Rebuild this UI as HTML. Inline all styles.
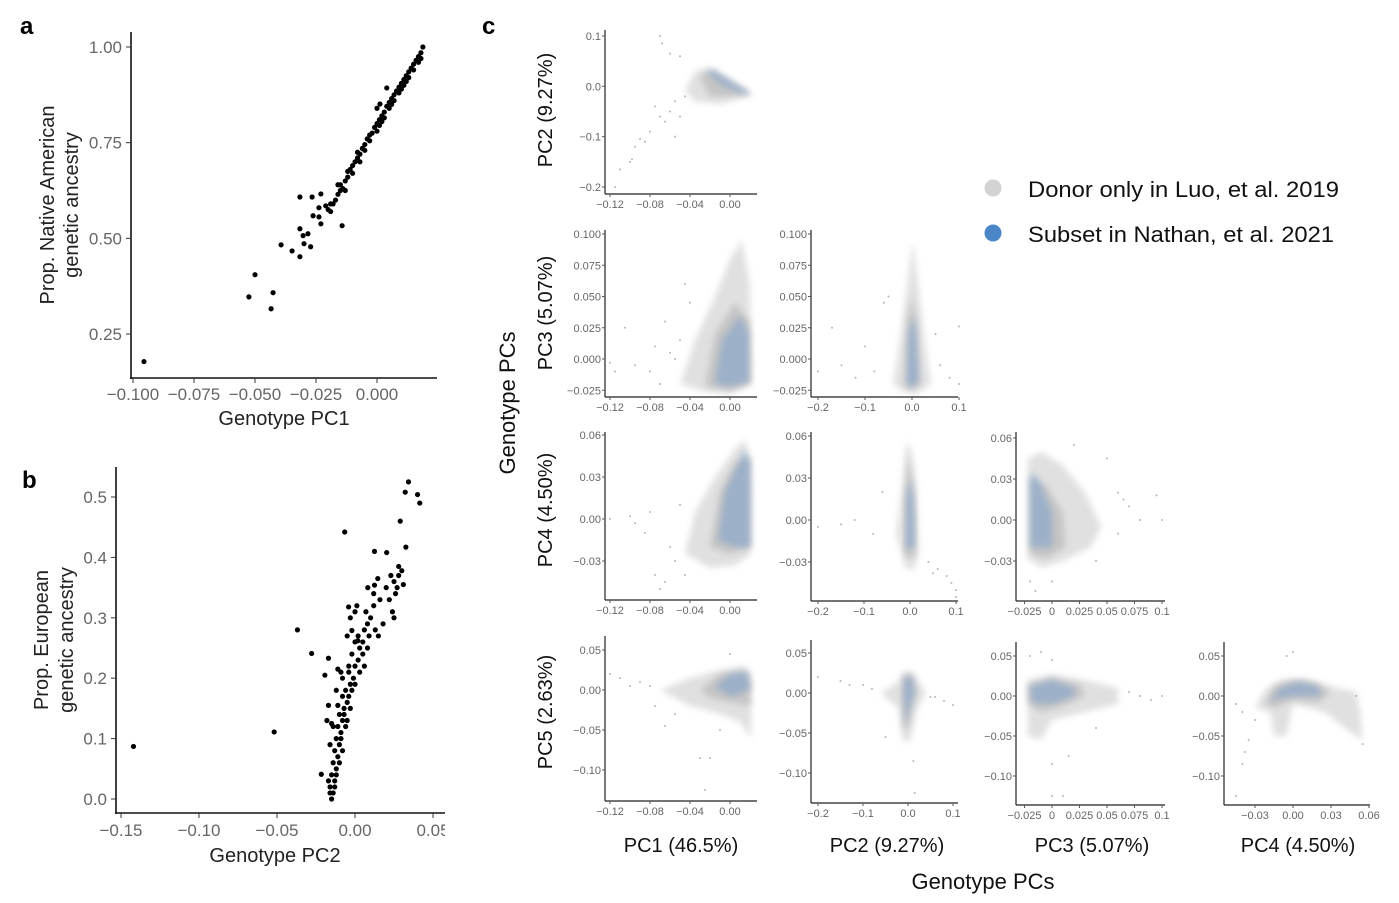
<!DOCTYPE html>
<html><head><meta charset="utf-8"><style>
html,body{margin:0;padding:0;background:#fff;}
svg{display:block;font-family:"Liberation Sans",Arial,sans-serif;}
</style></head><body>
<svg id="fig" width="1399" height="903" viewBox="0 0 1399 903" xmlns="http://www.w3.org/2000/svg">
<defs><filter id="bl" x="-30%" y="-30%" width="160%" height="160%"><feGaussianBlur stdDeviation="3.2"/></filter></defs>
<text x="20" y="34" font-size="24" font-weight="bold">a</text>
<text x="22" y="488" font-size="24" font-weight="bold">b</text>
<text x="482" y="34" font-size="24" font-weight="bold">c</text>
<g id="pa"></g>
<g id="pb"></g>
<g id="pc"></g>
<g>
 <circle cx="993" cy="188" r="8.5" fill="#d3d3d3"/>
 <text x="1028" y="197" font-size="22" fill="#111" textLength="311" lengthAdjust="spacingAndGlyphs">Donor only in Luo, et al. 2019</text>
 <circle cx="993" cy="233" r="8.5" fill="#4a86c8"/>
 <text x="1028" y="242" font-size="22" fill="#111" textLength="306" lengthAdjust="spacingAndGlyphs">Subset in Nathan, et al. 2021</text>
</g>
</svg>
<script>
// ---- Panel a data ----
const aPC1 = [-0.0955,-0.050,-0.0525,-0.0426,-0.0434,-0.0393,-0.0348,-0.0316,-0.0316,-0.0303,-0.0299,-0.0283,-0.0272,-0.0316,-0.0266,-0.023,-0.0262,-0.0238,-0.0238,-0.023,-0.0143,0.004,0.000,0.0012,
 -0.020,-0.019,-0.018,-0.017,-0.016,-0.015,-0.015,-0.014,-0.013,-0.012,-0.012,-0.011,-0.010,-0.010,-0.009,-0.008,-0.008,-0.007,-0.006,-0.005,-0.005,-0.004,-0.003,-0.002,-0.001,0.000,0.000,0.001,0.002,0.002,0.003,0.004,0.005,0.005,0.006,0.007,0.007,0.008,0.009,0.010,0.010,0.011,0.012,0.012,0.013,0.014,0.015,0.015,0.016,0.017,0.017,0.018,0.0188,0.018,-0.003,0.001,0.003,0.006,0.009,0.011,0.013,-0.007,-0.013,-0.016,-0.019,-0.021];
const aNatAm = [0.178,0.405,0.347,0.358,0.316,0.483,0.467,0.452,0.525,0.507,0.486,0.512,0.478,0.608,0.608,0.616,0.559,0.580,0.556,0.538,0.533,0.893,0.84,0.851,
 0.575,0.57,0.59,0.60,0.615,0.625,0.64,0.63,0.65,0.66,0.675,0.68,0.69,0.67,0.70,0.71,0.725,0.72,0.735,0.745,0.73,0.76,0.77,0.775,0.79,0.80,0.78,0.81,0.82,0.805,0.83,0.845,0.855,0.84,0.865,0.875,0.86,0.885,0.895,0.905,0.89,0.915,0.925,0.91,0.935,0.945,0.955,0.94,0.965,0.975,0.96,0.985,1.0,0.97,0.755,0.795,0.815,0.85,0.88,0.9,0.92,0.70,0.625,0.64,0.59,0.585];
const aXTicks = [-0.100,-0.075,-0.050,-0.025,0.000];
const aXLabels = ["\u22120.100","\u22120.075","\u22120.050","\u22120.025","0.000"];
const aYTicks = [1.00,0.75,0.50,0.25];
const aYLabels = ["1.00","0.75","0.50","0.25"];
// ---- Panel b data ----
const bPC2 = [-0.142,-0.0518,-0.0369,-0.0278,-0.0193,-0.017,-0.0066,-0.0216,0.0343,0.0322,0.0401,0.0415,0.029,0.0326,0.0125,0.0203,0.028,0.030,0.031,0.028,0.0082,0.0125,0.0146,-0.0041,0.0012,-0.002,0.0018,
 -0.015,-0.014,-0.016,-0.013,-0.015,-0.012,-0.014,-0.011,-0.013,-0.010,-0.012,-0.009,-0.011,-0.008,-0.010,-0.007,-0.005,-0.008,-0.004,-0.006,-0.003,-0.001,-0.004,0.000,0.002,-0.002,0.003,0.005,0.002,0.006,0.008,0.010,0.007,0.012,-0.012,-0.017,-0.006,-0.007,-0.002,0.000,0.003,0.006,0.005,0.008,0.009,-0.009,-0.010,-0.008,-0.005,-0.003,-0.013,-0.016,
 -0.016,-0.015,-0.014,-0.018,-0.011,-0.017,-0.012,-0.008,-0.009,-0.004,-0.011,-0.005,-0.003,0.000,0.000,0.013,0.012,0.016,0.022,0.025,0.024,0.026,0.020,0.023,0.025,0.027,0.018,0.015];
const bEur = [0.087,0.111,0.280,0.241,0.205,0.233,0.442,0.041,0.525,0.508,0.504,0.490,0.460,0.417,0.41,0.408,0.385,0.378,0.355,0.37,0.350,0.354,0.365,0.318,0.32,0.279,0.262,
 0.0,0.01,0.02,0.03,0.04,0.05,0.06,0.07,0.08,0.09,0.10,0.11,0.12,0.13,0.14,0.15,0.16,0.17,0.17,0.18,0.19,0.20,0.21,0.22,0.23,0.24,0.25,0.26,0.27,0.28,0.29,0.30,0.31,0.32,0.04,0.03,0.12,0.14,0.18,0.19,0.21,0.22,0.24,0.25,0.27,0.10,0.06,0.08,0.13,0.15,0.02,0.01,
 0.09,0.125,0.12,0.13,0.155,0.155,0.18,0.20,0.21,0.22,0.215,0.27,0.30,0.31,0.26,0.28,0.34,0.33,0.33,0.30,0.31,0.34,0.35,0.37,0.36,0.35,0.29,0.27];
const bXTicks = [-0.15,-0.10,-0.05,0.00,0.05];
const bXLabels = ["\u22120.15","\u22120.10","\u22120.05","0.00","0.05"];
const bYTicks = [0.0,0.1,0.2,0.3,0.4,0.5];
const bYLabels = ["0.0","0.1","0.2","0.3","0.4","0.5"];

// ---- Panel c data: density outlines (data units) and sparse donors ----
const c21Gray = [[-0.045,-0.01],[-0.035,0.03],[-0.02,0.038],[0.02,-0.012],[0.022,-0.018],[-0.01,-0.035],[-0.035,-0.03]];
const c21Core = [[-0.03,0.02],[-0.018,0.032],[0.02,-0.013],[0.0,-0.02],[-0.02,-0.02]];
const c21Blue = [[-0.024,0.03],[-0.016,0.032],[0.021,-0.015],[0.012,-0.016],[-0.01,0.005]];
const c21SpX = [-0.115,-0.11,-0.1,-0.095,-0.09,-0.085,-0.08,-0.075,-0.07,-0.065,-0.06,-0.055,-0.07,-0.068,-0.06,-0.05,-0.055,-0.045,-0.05,-0.098];
const c21SpY = [-0.2,-0.165,-0.15,-0.12,-0.105,-0.11,-0.09,-0.04,-0.06,-0.07,-0.05,-0.03,0.1,0.085,0.065,0.06,-0.1,-0.02,-0.06,-0.145];

const c31Gray = [[-0.05,-0.02],[-0.035,0.015],[-0.015,0.05],[0.0,0.08],[0.012,0.095],[0.02,0.06],[0.021,-0.02],[0.0,-0.028],[-0.025,-0.026]];
const c31Core = [[-0.025,-0.022],[-0.015,0.02],[0.005,0.045],[0.02,0.03],[0.021,-0.02],[0.0,-0.025]];
const c31Blue = [[-0.015,-0.02],[-0.008,0.015],[0.01,0.035],[0.019,0.02],[0.019,-0.018],[0.0,-0.022]];
const c31SpX = [-0.12,-0.105,-0.095,-0.08,-0.075,-0.07,-0.065,-0.06,-0.055,-0.05,-0.045,-0.04,-0.115];
const c31SpY = [-0.003,0.025,-0.005,-0.01,0.01,-0.02,0.03,0.005,0.0,0.015,0.06,0.045,-0.01];

const c32Gray = [[-0.04,-0.02],[-0.02,0.03],[-0.005,0.075],[0.002,0.095],[0.01,0.07],[0.025,0.02],[0.04,-0.02],[0.01,-0.028],[-0.02,-0.026]];
const c32Core = [[-0.015,-0.022],[-0.01,0.03],[0.0,0.05],[0.008,0.03],[0.018,-0.02],[0.0,-0.025]];
const c32Blue = [[-0.012,-0.02],[-0.008,0.02],[0.004,0.035],[0.01,0.02],[0.014,-0.018],[0.0,-0.022]];
const c32SpX = [-0.2,-0.17,-0.15,-0.12,-0.1,-0.08,-0.06,0.06,0.08,0.1,0.1,0.05,-0.05];
const c32SpY = [-0.01,0.025,-0.005,-0.015,0.01,-0.01,0.045,-0.005,-0.015,-0.02,0.026,0.02,0.05];

const c41Gray = [[-0.045,-0.025],[-0.035,0.005],[-0.015,0.03],[0.005,0.05],[0.015,0.057],[0.021,0.04],[0.021,-0.025],[0.005,-0.033],[-0.02,-0.035]];
const c41Core = [[-0.02,-0.02],[-0.01,0.02],[0.005,0.04],[0.02,0.045],[0.021,-0.02],[0.0,-0.025]];
const c41Blue = [[-0.012,-0.015],[-0.005,0.02],[0.015,0.05],[0.02,0.04],[0.02,-0.02],[0.005,-0.02]];
const c41SpX = [-0.12,-0.1,-0.095,-0.085,-0.08,-0.075,-0.07,-0.065,-0.06,-0.055,-0.05,-0.045];
const c41SpY = [0.0,0.002,-0.003,-0.01,0.005,-0.04,-0.05,-0.045,-0.02,-0.03,0.01,-0.04];

const c42Gray = [[-0.03,-0.01],[-0.015,0.03],[-0.008,0.056],[0.003,0.05],[0.015,0.02],[0.02,-0.02],[0.01,-0.035],[-0.01,-0.035]];
const c42Core = [[-0.012,-0.025],[-0.01,0.02],[-0.004,0.045],[0.005,0.03],[0.012,0.0],[0.01,-0.028]];
const c42Blue = [[-0.01,-0.02],[-0.008,0.015],[0.0,0.03],[0.008,0.015],[0.01,-0.02]];
const c42SpX = [-0.2,-0.15,-0.12,-0.08,-0.06,0.04,0.06,0.08,0.09,0.1,0.1,0.05];
const c42SpY = [-0.005,-0.003,0.0,-0.01,0.02,-0.03,-0.035,-0.04,-0.045,-0.05,-0.055,-0.038];

const c43Gray = [[-0.022,-0.028],[-0.022,0.045],[-0.01,0.05],[0.01,0.04],[0.03,0.02],[0.045,-0.005],[0.035,-0.02],[0.01,-0.03],[-0.01,-0.035]];
const c43Core = [[-0.02,-0.025],[-0.02,0.03],[-0.005,0.025],[0.01,0.005],[0.012,-0.02],[-0.005,-0.028]];
const c43Blue = [[-0.02,-0.02],[-0.02,0.035],[-0.012,0.03],[0.0,0.005],[0.0,-0.02]];
const c43SpX = [-0.02,-0.015,0.02,0.05,0.06,0.07,0.08,0.095,0.1,0.06,0.065,0.0,0.04];
const c43SpY = [-0.045,-0.052,0.055,0.045,0.02,0.01,0.0,0.018,0.0,-0.01,0.015,-0.045,-0.03];

const c51Gray = [[-0.07,0.0],[-0.04,0.015],[-0.01,0.025],[0.015,0.03],[0.021,0.02],[0.021,-0.06],[0.01,-0.04],[-0.01,-0.03],[-0.04,-0.02]];
const c51Core = [[-0.03,0.0],[-0.01,0.02],[0.015,0.025],[0.021,0.01],[0.02,-0.02],[0.0,-0.015],[-0.02,-0.01]];
const c51Blue = [[-0.015,0.005],[0.0,0.02],[0.018,0.022],[0.02,0.0],[0.0,-0.008]];
const c51SpX = [-0.12,-0.11,-0.1,-0.09,-0.08,-0.075,-0.065,-0.055,-0.03,-0.02,-0.025,-0.01,0.0];
const c51SpY = [0.02,0.015,0.005,0.01,0.005,-0.02,-0.045,-0.03,-0.085,-0.085,-0.125,-0.05,0.045];

const c52Gray = [[-0.06,0.0],[-0.02,0.015],[-0.01,0.027],[0.01,0.027],[0.04,0.0],[0.02,-0.02],[0.005,-0.06],[-0.012,-0.06],[-0.02,-0.02]];
const c52Core = [[-0.015,0.0],[-0.01,0.022],[0.01,0.022],[0.02,0.0],[0.008,-0.02],[0.0,-0.045],[-0.01,-0.045]];
const c52Blue = [[-0.01,0.0],[-0.008,0.02],[0.008,0.02],[0.015,0.0],[0.005,-0.015],[-0.005,-0.04]];
const c52SpX = [-0.2,-0.15,-0.13,-0.1,-0.08,0.06,0.08,0.1,0.012,0.015,-0.05,0.05];
const c52SpY = [0.02,0.015,0.01,0.01,0.005,-0.005,-0.01,-0.015,-0.085,-0.125,-0.055,-0.005];

const c53Gray = [[-0.022,0.02],[0.0,0.027],[0.03,0.02],[0.06,0.01],[0.06,-0.01],[0.03,-0.02],[0.0,-0.03],[-0.01,-0.055],[-0.022,-0.05]];
const c53Core = [[-0.022,0.015],[0.0,0.022],[0.025,0.015],[0.03,0.0],[0.01,-0.012],[-0.01,-0.02],[-0.022,-0.01]];
const c53Blue = [[-0.02,0.012],[0.0,0.02],[0.02,0.01],[0.02,0.0],[0.0,-0.01],[-0.018,-0.008]];
const c53SpX = [-0.02,-0.01,0.0,0.01,0.07,0.08,0.09,0.1,0.0,0.015,0.0,0.04];
const c53SpY = [0.05,0.055,-0.085,-0.125,0.005,0.0,-0.005,0.0,-0.125,-0.075,0.045,-0.04];

const c54Gray = [[-0.03,-0.015],[-0.022,0.008],[-0.01,0.02],[0.01,0.022],[0.03,0.012],[0.05,0.005],[0.053,-0.02],[0.055,-0.055],[0.045,-0.045],[0.025,-0.02],[0.0,-0.01],[-0.005,-0.05],[-0.015,-0.05],[-0.018,-0.02]];
const c54Core = [[-0.022,-0.01],[-0.015,0.012],[0.0,0.02],[0.02,0.015],[0.03,0.005],[0.02,-0.008],[0.0,-0.005],[-0.015,-0.015]];
const c54Blue = [[-0.018,-0.005],[-0.01,0.01],[0.005,0.018],[0.02,0.012],[0.022,0.0],[0.0,0.0]];
const c54SpX = [-0.045,-0.04,-0.038,-0.035,-0.03,-0.04,-0.005,0.0,0.05,0.055,-0.045];
const c54SpY = [-0.125,-0.085,-0.07,-0.055,-0.03,-0.02,0.05,0.055,0.0,-0.06,-0.01];

const c21XT=[-0.12,-0.08,-0.04,0.00], c21XL=["\u22120.12","\u22120.08","\u22120.04","0.00"];
const c21YT=[0.1,0.0,-0.1,-0.2], c21YL=["0.1","0.0","\u22120.1","\u22120.2"];
const c3YT=[0.100,0.075,0.050,0.025,0.000,-0.025], c3YL=["0.100","0.075","0.050","0.025","0.000","\u22120.025"];
const c4YT=[0.06,0.03,0.00,-0.03], c4YL=["0.06","0.03","0.00","\u22120.03"];
const c5YT=[0.05,0.00,-0.05,-0.10], c5YL=["0.05","0.00","\u22120.05","\u22120.10"];
const pc2XT=[-0.2,-0.1,0.0,0.1], pc2XL=["\u22120.2","\u22120.1","0.0","0.1"];
const pc3XT=[-0.025,0,0.025,0.05,0.075,0.1], pc3XL=["\u22120.025","0","0.025","0.05","0.075","0.1"];
const pc4XT=[-0.03,0.00,0.03,0.06], pc4XL=["\u22120.03","0.00","0.03","0.06"];

const NS="http://www.w3.org/2000/svg";
function E(tag, attrs, parent){const e=document.createElementNS(NS,tag);for(const k in attrs)e.setAttribute(k,attrs[k]);parent.appendChild(e);return e;}
function lin(v0,p0,v1,p1){return v=>p0+(v-v0)*(p1-p0)/(v1-v0);}

// ---- Panel a ----
(function(){
 const g=document.getElementById('pa');
 const X=lin(-0.1,133,0,377), Y=lin(1,47,0.25,334);
 let l=E('line',{x1:131,y1:32,x2:131,y2:379,stroke:'#111','stroke-width':1.6},g);
  
 l=E('line',{x1:130,y1:378,x2:437,y2:378,stroke:'#111','stroke-width':1.6},g);
  
 aYTicks.forEach((v,i)=>{E('line',{x1:126,x2:131,y1:Y(v),y2:Y(v),stroke:'#333'},g);
  const t=E('text',{x:122,y:Y(v)+6,'text-anchor':'end','font-size':17,fill:'#666'},g);t.textContent=aYLabels[i];
   });
 aXTicks.forEach((v,i)=>{E('line',{x1:X(v),x2:X(v),y1:378,y2:383,stroke:'#333'},g);
  const t=E('text',{x:X(v),y:400,'text-anchor':'middle','font-size':17,fill:'#666'},g);t.textContent=aXLabels[i];
   });
 aPC1.forEach((x,i)=>{const c=E('circle',{cx:X(x),cy:Y(aNatAm[i]),r:2.6,fill:'#000'},g);
   });
 let t=E('text',{x:284,y:425,'text-anchor':'middle','font-size':20,fill:'#222'},g);t.textContent='Genotype PC1';
  
 t=E('text',{x:0,y:0,'text-anchor':'middle','font-size':20,fill:'#222',transform:'translate(54,205) rotate(-90)'},g);t.textContent='Prop. Native American';
  
 t=E('text',{x:0,y:0,'text-anchor':'middle','font-size':20,fill:'#222',transform:'translate(78,205) rotate(-90)'},g);t.textContent='genetic ancestry';
  
})();

// ---- Panel b ----
(function(){
 const g=document.getElementById('pb');
 const X=lin(0,355,0.05,433), Y=lin(0,799,0.5,497);
 let l=E('line',{x1:116,y1:467,x2:116,y2:814,stroke:'#111','stroke-width':1.6},g);
  
 l=E('line',{x1:115,y1:813,x2:445,y2:813,stroke:'#111','stroke-width':1.6},g);
  
 bYTicks.forEach((v,i)=>{E('line',{x1:111,x2:116,y1:Y(v),y2:Y(v),stroke:'#333'},g);
  const t=E('text',{x:107,y:Y(v)+6,'text-anchor':'end','font-size':17,fill:'#666'},g);t.textContent=bYLabels[i];
   });
 bXTicks.forEach((v,i)=>{E('line',{x1:X(v),x2:X(v),y1:813,y2:818,stroke:'#333'},g);
  const t=E('text',{x:X(v),y:836,'text-anchor':'middle','font-size':17,fill:'#666'},g);t.textContent=bXLabels[i];
   });
 E('rect',{x:445,y:815,width:40,height:30,fill:'#fff'},g);
 bPC2.forEach((x,i)=>{const c=E('circle',{cx:X(x),cy:Y(bEur[i]),r:2.6,fill:'#000'},g);
   });
 let t=E('text',{x:275,y:862,'text-anchor':'middle','font-size':20,fill:'#222'},g);t.textContent='Genotype PC2';
  
 t=E('text',{x:0,y:0,'text-anchor':'middle','font-size':20,fill:'#222',transform:'translate(48,640) rotate(-90)'},g);t.textContent='Prop. European';
  
 t=E('text',{x:0,y:0,'text-anchor':'middle','font-size':20,fill:'#222',transform:'translate(73,640) rotate(-90)'},g);t.textContent='genetic ancestry';
  
})();

// ---- Panel c ----
const gc=document.getElementById('pc');
function sub(name, ax, top, bottom, right, X, Y, xT, xL, yT, yL, gray, core, blue, spX, spY){
 const g=E('g',{},gc);
  
 const P=a=>a.map(p=>X(p[0]).toFixed(1)+','+Y(p[1]).toFixed(1)).join(' ');
 let s=E('polygon',{points:P(gray),fill:'#d6d6d6',opacity:0.75,filter:'url(#bl)'},g);
  
 s=E('polygon',{points:P(core),fill:'#b9b9b9',opacity:0.7,filter:'url(#bl)'},g);
  
 s=E('polygon',{points:P(blue),fill:'#6c98cf',opacity:0.45,filter:'url(#bl)'},g);
  
 spX.forEach((x,i)=>{const c=E('circle',{cx:X(x),cy:Y(spY[i]),r:1,fill:'#b5b5b5'},g);
   });
 let l=E('line',{x1:ax,y1:top,x2:ax,y2:bottom,stroke:'#222','stroke-width':1.2},g);
  
 l=E('line',{x1:ax,y1:bottom,x2:right,y2:bottom,stroke:'#222','stroke-width':1.2},g);
  
 yT.forEach((v,i)=>{E('line',{x1:ax-3,x2:ax,y1:Y(v),y2:Y(v),stroke:'#555'},g);
  const t=E('text',{x:ax-4,y:Y(v)+4,'text-anchor':'end','font-size':11,fill:'#666'},g);t.textContent=yL[i];
   });
 xT.forEach((v,i)=>{E('line',{x1:X(v),x2:X(v),y1:bottom,y2:bottom+3,stroke:'#555'},g);
  const t=E('text',{x:X(v),y:bottom+14,'text-anchor':'middle','font-size':11,fill:'#666'},g);t.textContent=xL[i];
   });
}
sub('pc1-vs-pc2',605,30,194,757,lin(0,730,-0.12,610),lin(0.1,36,-0.2,187),c21XT,c21XL,c21YT,c21YL,c21Gray,c21Core,c21Blue,c21SpX,c21SpY);
sub('pc1-vs-pc3',605,230,397,757,lin(0,730,-0.12,610),lin(0.1,234,0,359),c21XT,c21XL,c3YT,c3YL,c31Gray,c31Core,c31Blue,c31SpX,c31SpY);
sub('pc2-vs-pc3',811,230,397,958,lin(0,912,-0.2,818),lin(0.1,234,0,359),pc2XT,pc2XL,c3YT,c3YL,c32Gray,c32Core,c32Blue,c32SpX,c32SpY);
sub('pc1-vs-pc4',605,432,600,757,lin(0,730,-0.12,610),lin(0,519,0.03,477),c21XT,c21XL,c4YT,c4YL,c41Gray,c41Core,c41Blue,c41SpX,c41SpY);
sub('pc2-vs-pc4',811,432,601,958,lin(0,910,-0.2,818),lin(0,520,0.03,478),pc2XT,pc2XL,c4YT,c4YL,c42Gray,c42Core,c42Blue,c42SpX,c42SpY);
sub('pc3-vs-pc4',1016,432,601,1165,lin(0,1052,0.1,1162),lin(0,520,0.03,479),pc3XT,pc3XL,c4YT,c4YL,c43Gray,c43Core,c43Blue,c43SpX,c43SpY);
sub('pc1-vs-pc5',605,636,801,757,lin(0,730,-0.12,610),lin(0,690,0.05,650),c21XT,c21XL,c5YT,c5YL,c51Gray,c51Core,c51Blue,c51SpX,c51SpY);
sub('pc2-vs-pc5',811,640,803,958,lin(0,908,-0.2,818),lin(0,693,0.05,653),pc2XT,pc2XL,c5YT,c5YL,c52Gray,c52Core,c52Blue,c52SpX,c52SpY);
sub('pc3-vs-pc5',1016,642,805,1165,lin(0,1052,0.1,1162),lin(0,696,0.05,656),pc3XT,pc3XL,c5YT,c5YL,c53Gray,c53Core,c53Blue,c53SpX,c53SpY);
sub('pc4-vs-pc5',1224,642,805,1370,lin(0,1293,0.03,1331),lin(0,696,0.05,656),pc4XT,pc4XL,c5YT,c5YL,c54Gray,c54Core,c54Blue,c54SpX,c54SpY);

const rowTitles=[['PC2 (9.27%)',110],['PC3 (5.07%)',313],['PC4 (4.50%)',510],['PC5 (2.63%)',712]];
rowTitles.forEach(r=>{const t=E('text',{x:0,y:0,'text-anchor':'middle','font-size':20,fill:'#111',transform:'translate(552,'+r[1]+') rotate(-90)'},gc);t.textContent=r[0];
  });
const colTitles=[['PC1 (46.5%)',681],['PC2 (9.27%)',887],['PC3 (5.07%)',1092],['PC4 (4.50%)',1298]];
colTitles.forEach(c=>{const t=E('text',{x:c[1],y:852,'text-anchor':'middle','font-size':20,fill:'#111'},gc);t.textContent=c[0];
  });
let tt=E('text',{x:983,y:889,'text-anchor':'middle','font-size':22,fill:'#111'},gc);tt.textContent='Genotype PCs';
 
tt=E('text',{x:0,y:0,'text-anchor':'middle','font-size':22,fill:'#111',transform:'translate(515,403) rotate(-90)'},gc);tt.textContent='Genotype PCs';
 
</script>
</body></html>
